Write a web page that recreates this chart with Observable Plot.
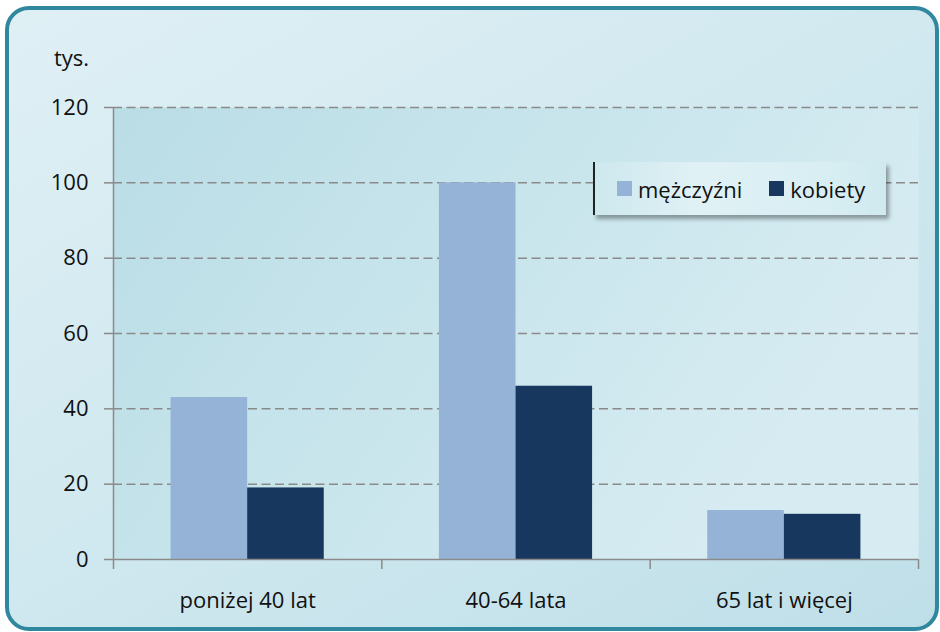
<!DOCTYPE html>
<html>
<head>
<meta charset="utf-8">
<script src="https://cdn.jsdelivr.net/npm/d3@7"></script>
<script src="https://cdn.jsdelivr.net/npm/@observablehq/plot@0.6"></script>
<style>
  body { margin: 0; background: #ffffff; }
  #wrap { position: relative; width: 940px; height: 632px; overflow: hidden; font-family: "Open Sans", sans-serif; }
  #panel { position: absolute; left: 5px; top: 6px; width: 926px; height: 617px;
    border: 4px solid #2f889d; border-radius: 24px;
    background: linear-gradient(150deg, #dff0f5 0%, #d2e9f0 45%, #bfdfe8 100%); }
  #chart { position: absolute; left: 0; top: 0; }
  #unit { position: absolute; left: 54px; top: 46px; font-size: 22px; line-height: 22px; color: #111; }
  #legend { position: absolute; left: 593px; top: 162px; width: 291px; height: 53px;
    border-left: 2px solid #222;
    background: linear-gradient(90deg, #cde8ee 0%, #e0f1f5 35%, #d8eef3 80%, #cfe9ef 100%);
    box-shadow: 3px 4px 4px rgba(0,0,0,0.35);
    display: flex; align-items: center; font-size: 22px; color: #111; }
  .item { display: flex; align-items: center; }
  .sw { width: 15px; height: 15px; margin-right: 6px; }
  g[aria-label="x-axis tick"], g[aria-label="y-axis tick"] { color: #8a8a8a; stroke-width: 1.5px; }
</style>
</head>
<body>
<div id="wrap">
  <div id="panel"></div>
  <div id="chart"></div>
  <div id="unit">tys.</div>
  <div id="legend"></div>
</div>
<script>
const categories = ["poniżej 40 lat", "40-64 lata", "65 lat i więcej"];
const series = ["mężczyźni", "kobiety"];
const men = [43, 100, 13];
const women = [19, 46, 12];
const yTicks = [0, 20, 40, 60, 80, 100, 120];
const colors = ["#95b3d7", "#17375e"];

const data = categories.flatMap((c, i) => [
  {cat: c, i, s: 0, series: series[0], value: men[i]},
  {cat: c, i, s: 1, series: series[1], value: women[i]}
]);

// bar layout within each category slot (fraction of slot)
const groupHalf = 0.2854;

const defs = () => {
  const g = d3.create("svg:defs");
  const lg = g.append("linearGradient").attr("id", "plotbg")
    .attr("x1", "0").attr("y1", "0").attr("x2", "1").attr("y2", "0.4");
  lg.append("stop").attr("offset", "0%").attr("stop-color", "#badde6");
  lg.append("stop").attr("offset", "50%").attr("stop-color", "#c8e5ec");
  lg.append("stop").attr("offset", "100%").attr("stop-color", "#d7ecf2");
  return g.node();
};

const chart = Plot.plot({
  width: 940,
  height: 632,
  marginLeft: 113,
  marginRight: 22,
  marginTop: 107,
  marginBottom: 73,
  style: {background: "transparent", fontFamily: "Open Sans, sans-serif", fontSize: "22px", color: "#111", overflow: "visible"},
  x: {domain: [0, 3], ticks: [0, 1, 2, 3], tickSize: 10, tickFormat: () => "", label: null},
  y: {domain: [0, 120], ticks: yTicks, tickSize: 9, tickPadding: 16, label: null},
  color: {domain: series, range: colors},
  marks: [
    defs,
    Plot.frame({fill: "url(#plotbg)", stroke: null}),
    Plot.ruleY(yTicks.slice(1), {stroke: "#8a8a8a", strokeWidth: 1.5, strokeDasharray: "9,4.5"}),
    Plot.rectY(data, {
      x1: d => d.i + 0.5 - (d.s === 0 ? groupHalf : 0),
      x2: d => d.i + 0.5 + (d.s === 1 ? groupHalf : 0),
      y1: 0,
      y2: "value",
      fill: "series"
    }),
    Plot.ruleX([0], {stroke: "#8a8a8a", strokeWidth: 1.5}),
    Plot.ruleY([0], {stroke: "#8a8a8a", strokeWidth: 1.5}),
    Plot.text(categories, {x: (d, i) => i + 0.5, y: 0, dy: 41, text: d => d, fill: "#111", fontSize: 22})
  ]
});
document.getElementById("chart").appendChild(chart);

const legend = d3.select("#legend");
series.forEach((s, k) => {
  const it = legend.append("div").attr("class", "item")
    .style("margin-left", k === 0 ? "22px" : "27px");
  it.append("div").attr("class", "sw").style("background", colors[k]);
  it.append("span").text(s);
});
</script>
</body>
</html>
